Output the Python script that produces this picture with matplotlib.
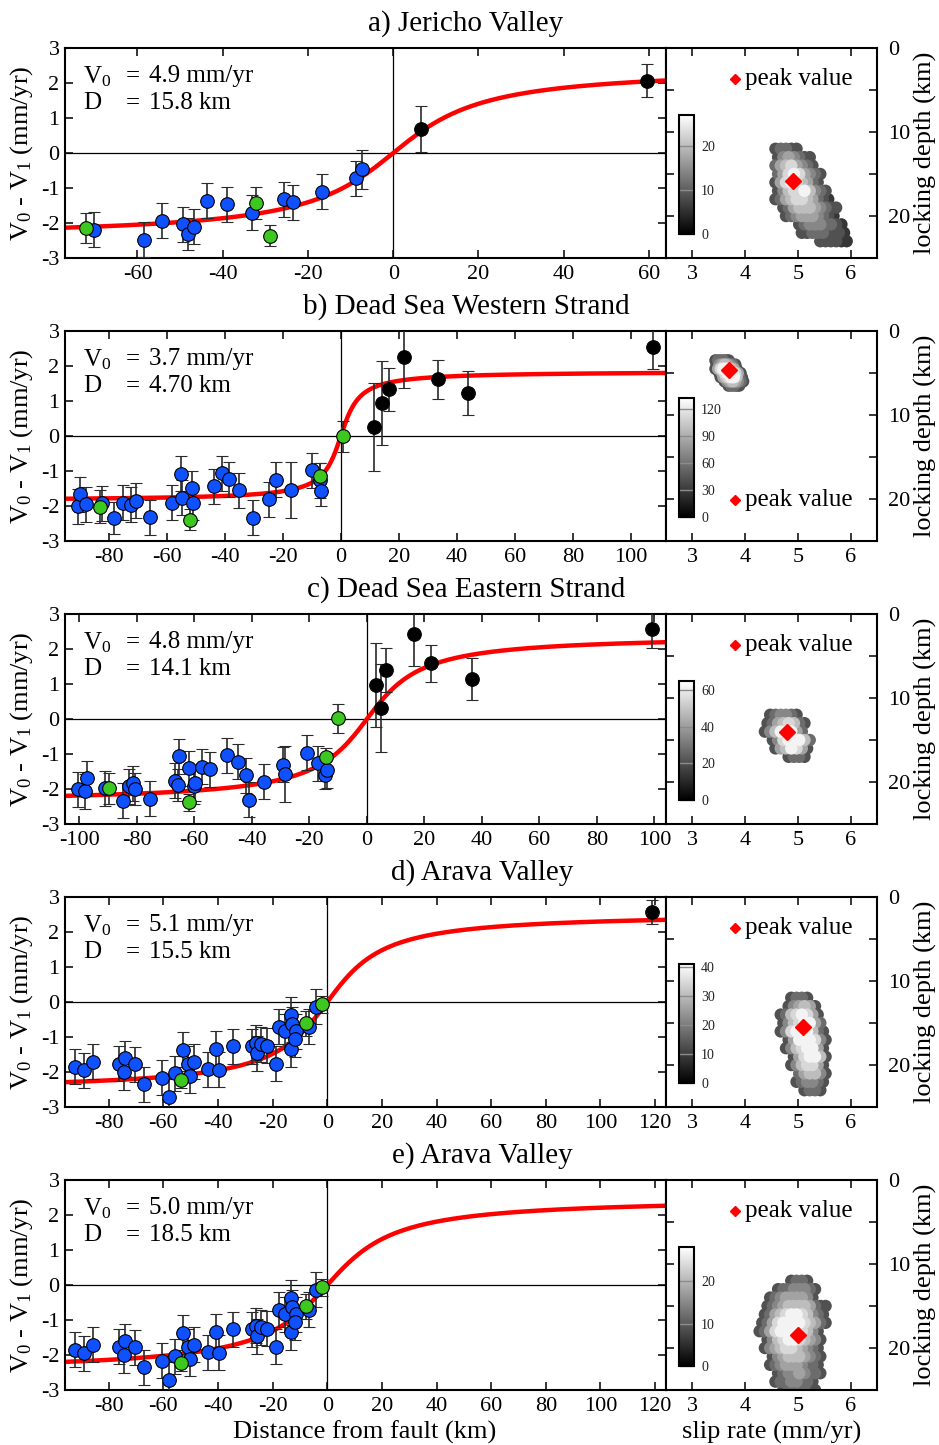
import numpy as np
import matplotlib
matplotlib.use("Agg")
import matplotlib.pyplot as plt
from matplotlib.ticker import MultipleLocator, FuncFormatter
from matplotlib.colors import Normalize

plt.rcParams['font.family'] = ['Liberation Serif', 'DejaVu Serif']
plt.rcParams['mathtext.fontset'] = 'custom'
plt.rcParams['mathtext.rm'] = 'Liberation Serif'
plt.rcParams['axes.unicode_minus'] = False

BLUE = '#0F50FF'
GREEN = '#3CC81E'

# ---- profile data: distance (km), V0-V1 (mm/yr), error, kind (b/g/k) ----
jer_x = [-72.0, -70.2, -58.5, -54.2, -49.2, -48.2, -46.8, -43.7, -39.0, -33.2,
         -32.2, -29.0, -25.7, -23.5, -16.7, -8.7, -7.3, 6.6, 59.6]
jer_y = [-2.15, -2.19, -2.48, -1.94, -2.04, -2.31, -2.11, -1.37, -1.47, -1.70,
         -1.43, -2.37, -1.32, -1.41, -1.10, -0.72, -0.47, 0.68, 2.06]
jer_e = [0.43, 0.50, 0.50, 0.50, 0.50, 0.45, 0.50, 0.50, 0.50, 0.50,
         0.45, 0.30, 0.50, 0.50, 0.50, 0.50, 0.57, 0.66, 0.47]
jer_k = "gbbbbbbbbbggbbbbbkk"

dsw_x = [-90.6, -89.7, -87.8, -83.0, -82.2, -78.2, -75.0, -72.1, -70.4, -65.6,
         -58.1, -54.9, -54.7, -52.1, -51.3, -51.0, -43.8, -40.9, -38.6, -35.2,
         -30.4, -24.9, -22.2, -17.2, -10.0, -7.3, -7.3, -6.8, 0.6, 11.5,
         14.2, 16.6, 21.8, 33.4, 43.8, 107.6]
dsw_y = [-2.00, -1.67, -1.95, -2.02, -1.92, -2.34, -1.90, -1.97, -1.85, -2.32,
         -1.90, -1.08, -1.77, -2.39, -1.49, -1.91, -1.43, -1.07, -1.24, -1.55,
         -2.34, -1.80, -1.25, -1.55, -0.98, -1.27, -1.13, -1.56, -0.01, 0.26,
         0.95, 1.33, 2.26, 1.62, 1.23, 2.54]
dsw_e = [0.50, 0.50, 0.50, 0.47, 0.50, 0.45, 0.50, 0.50, 0.50, 0.50,
         0.50, 0.50, 0.50, 0.30, 0.50, 0.50, 0.50, 0.50, 0.50, 0.50,
         0.50, 0.50, 0.50, 0.80, 0.50, 0.50, 0.35, 0.45, 0.44, 1.25,
         1.20, 0.62, 0.90, 0.55, 0.62, 0.62]
dsw_k = "bbbgbbbbbbbbbgbbbbbbbbbbbbgbgkkkkkkk"

dse_x = [-100.5, -98.1, -97.3, -91.2, -89.8, -84.8, -82.9, -81.5, -80.5, -75.5,
         -66.6, -65.7, -65.2, -62.0, -61.8, -60.3, -59.7, -57.4, -54.7, -48.7,
         -45.0, -42.2, -41.1, -35.9, -29.3, -28.4, -20.9, -17.0, -14.5, -13.9,
         -14.1, -10.2, 3.1, 4.9, 6.6, 16.5, 22.4, 36.5, 99.3]
dse_y = [-2.00, -2.06, -1.69, -1.98, -1.98, -2.34, -1.92, -1.84, -2.00, -2.28,
         -1.77, -1.88, -1.06, -1.40, -2.38, -1.92, -1.83, -1.37, -1.44, -1.04,
         -1.22, -1.60, -2.30, -1.79, -1.30, -1.57, -0.97, -1.26, -1.59, -1.47,
         -1.09, 0.02, 0.96, 0.32, 1.41, 2.44, 1.59, 1.14, 2.57]
dse_e = [0.50, 0.50, 0.50, 0.50, 0.45, 0.50, 0.50, 0.50, 0.45, 0.50,
         0.50, 0.45, 0.50, 0.50, 0.25, 0.50, 0.50, 0.50, 0.50, 0.50,
         0.50, 0.50, 0.50, 0.50, 0.50, 0.80, 0.50, 0.50, 0.40, 0.50,
         0.25, 0.42, 1.20, 1.25, 0.63, 0.93, 0.53, 0.60, 0.55]
dse_k = "bbbbgbbbbbbbbbgbbbbbbbbbbbbbbbggkkkkkkk"

arv_x = [-92.4, -89.0, -85.9, -76.1, -73.9, -74.4, -70.3, -67.0, -60.5, -58.0,
         -55.9, -53.5, -52.9, -51.0, -50.1, -48.8, -43.7, -40.9, -39.5, -34.5,
         -27.5, -26.2, -25.6, -24.1, -21.9, -18.8, -17.6, -15.5, -13.1, -12.9,
         -13.1, -11.3, -11.9, -6.7, -7.8, -4.3, -2.1, 119.0]
arv_y = [-1.85, -1.95, -1.70, -1.77, -1.60, -2.01, -1.78, -2.35, -2.16, -2.70,
         -2.03, -2.22, -1.36, -1.76, -2.10, -1.70, -1.92, -1.33, -1.93, -1.27,
         -1.26, -1.16, -1.46, -1.21, -1.25, -1.76, -0.71, -0.84, -0.37, -0.63,
         -1.35, -0.84, -1.07, -0.70, -0.61, -0.13, -0.07, 2.57]
arv_e = [0.50, 0.50, 0.50, 0.50, 0.50, 0.50, 0.50, 0.50, 0.50, 0.50,
         0.50, 0.25, 0.50, 0.50, 0.50, 0.50, 0.50, 0.50, 0.50, 0.50,
         0.50, 0.50, 0.50, 0.50, 0.50, 0.50, 0.50, 0.50, 0.50, 0.50,
         0.50, 0.50, 0.50, 0.50, 0.35, 0.50, 0.25, 0.35]
arv_k = "bbbbbbbbbbbgbbbbbbbbbbbbbbbbbbbbbbgbgk"

titles = ["a) Jericho Valley", "b) Dead Sea Western Strand",
          "c) Dead Sea Eastern Strand", "d) Arava Valley", "e) Arava Valley"]
slip_v0 = [4.9, 3.7, 4.8, 5.1, 5.0]
lock_d = [15.8, 4.7, 14.1, 15.5, 18.5]
d_text = ["15.8", "4.70", "14.1", "15.5", "18.5"]
x_limits = [(-77, 64), (-95, 112), (-105, 104), (-96, 124), (-96, 124)]

# ---- posterior clouds: grid of density levels (0 = no samples) ----
# (slip start, depth start, slip step, depth step)
jer_grid = (4.5, 12.0, 0.1, 1.0)
jer_cloud = ["0344330000000000",
             "0356543300000000",
             "0467865430000000",
             "0468986543000000",
             "0368987643000000",
             "0357889754300000",
             "0346788764320000",
             "0034677765433000",
             "0003456665432000",
             "0000034555443200",
             "0000003344433320",
             "0000000003333220"]
dsw_grid = (3.45, 3.5, 0.05, 0.5)
dsw_cloud = ["34443300000",
             "35676543000",
             "36899976300",
             "03689998630",
             "00367899743",
             "00035676543",
             "00000344330"]
dse_grid = (4.4, 12.0, 0.1, 1.0)
dse_cloud = ["034554300",
             "346787430",
             "357999640",
             "035899974",
             "003679863",
             "000034430"]
arv1_grid = (4.7, 12.0, 0.1, 1.0)
arv1_cloud = ["003443000",
              "035676300",
              "347898630",
              "357899640",
              "358999743",
              "036999853",
              "035789963",
              "003689973",
              "003578863",
              "000467753",
              "000345543",
              "000034430"]
arv2_grid = (4.3, 12.0, 0.1, 1.0)
arv2_cloud = ["0000003443000",
              "0003445554300",
              "0034566665300",
              "0345677776433",
              "0346789987543",
              "3468999987643",
              "3468999987530",
              "0357899876530",
              "0356788765430",
              "0035677765430",
              "0034566654430",
              "0003455654430",
              "0003445544300",
              "0000344443300"]
cb_max = [27, 132, 65, 41, 28]
cb_ticks = [[0, 10, 20], [0, 30, 60, 90, 120], [0, 20, 40, 60],
            [0, 10, 20, 30, 40], [0, 10, 20]]

profiles = [(jer_x, jer_y, jer_e, jer_k), (dsw_x, dsw_y, dsw_e, dsw_k),
            (dse_x, dse_y, dse_e, dse_k), (arv_x, arv_y, arv_e, arv_k),
            (arv_x[:-1], arv_y[:-1], arv_e[:-1], arv_k[:-1])]
clouds = [(jer_cloud, jer_grid), (dsw_cloud, dsw_grid), (dse_cloud, dse_grid),
          (arv1_cloud, arv1_grid), (arv2_cloud, arv2_grid)]

W, H = 939, 1445
fig = plt.figure(figsize=(W / 100, H / 100), dpi=100)

row_tops = [48, 331, 614, 897, 1180]
title_cx = [466, 466, 466, 482, 482]
row_h = 210


def style_axes(ax):
    for sp in ax.spines.values():
        sp.set_linewidth(1.5)
    ax.tick_params(which='both', direction='in', length=6, width=1.1,
                   top=True, right=True, labelsize=16, pad=5)


for i in range(5):
    top = row_tops[i]
    y0 = 1 - (top + row_h) / H
    h = row_h / H
    ax = fig.add_axes([65 / W, y0, (666 - 65) / W, h])
    ax2 = fig.add_axes([666 / W, y0, 211 / W, h])

    # ---- left: velocity profile ----
    x, y, e = [np.array(v) for v in profiles[i][:3]]
    k = np.array(list(profiles[i][3]))
    xl = x_limits[i]
    xm = np.linspace(xl[0], xl[1], 500)
    ax.plot(xm, slip_v0[i] / np.pi * np.arctan(xm / lock_d[i]), color='red',
            lw=3.2, zorder=2, solid_capstyle='butt')
    ax.axhline(0, color='k', lw=0.9, zorder=1)
    ax.axvline(0, color='k', lw=0.9, zorder=1)
    for kind, col in [('b', BLUE), ('g', GREEN), ('k', 'black')]:
        sel = k == kind
        if sel.any():
            ax.errorbar(x[sel], y[sel], yerr=e[sel], fmt='o', ms=9.8, mfc=col,
                        mec='black', mew=0.8, ecolor='#2a2a2a', elinewidth=1.2,
                        capsize=4.5, capthick=1.2, zorder=3)
    ax.set_xlim(xl)
    ax.set_ylim(-3, 3)
    ax.xaxis.set_major_locator(MultipleLocator(20))
    ax.yaxis.set_major_locator(MultipleLocator(1))
    style_axes(ax)
    ax.tick_params(axis='y', pad=4)
    for yy, lab, val in [(0.865, r"V$\mathregular{_0}$", "%.1f mm/yr" % slip_v0[i]),
                         (0.74, "D", "%s km" % d_text[i])]:
        ax.text(18 / 601, yy, lab, transform=ax.transAxes, fontsize=18,
                va='center', ha='left')
        ax.text(61 / 601, yy, "=", transform=ax.transAxes, fontsize=18,
                va='center', ha='left')
        ax.text(84 / 601, yy, val, transform=ax.transAxes, fontsize=18,
                va='center', ha='left')

    # ---- right: slip rate / locking depth posterior ----
    rows, (s0, d0, ds, dd) = clouds[i]
    cs, cd, cv = [], [], []
    for r, row in enumerate(rows):
        for j, ch in enumerate(row):
            lev = int(ch)
            if lev:
                cs.append(s0 + (j + 0.5 * (r % 2) - 0.25) * ds)
                cd.append(d0 + r * dd)
                cv.append(lev / 9 * cb_max[i] * 0.95)
    order = np.argsort(cv, kind='stable')
    cs, cd, cv = np.array(cs)[order], np.array(cd)[order], np.array(cv)[order]
    ax2.scatter(cs, cd, c=cv, cmap='gray', vmin=0, vmax=cb_max[i], s=80,
                linewidths=0, zorder=2)
    ax2.plot(slip_v0[i], lock_d[i], 'D', color='red', ms=8, mec='red', zorder=4)
    ax2.set_xlim(2.5, 6.5)
    ax2.set_ylim(25, 0)
    ax2.xaxis.set_major_locator(MultipleLocator(1))
    ax2.yaxis.set_major_locator(MultipleLocator(5))
    ax2.yaxis.set_major_formatter(FuncFormatter(
        lambda v, p: "%d" % v if abs(v % 10) < 1e-6 else ""))
    style_axes(ax2)
    ax2.tick_params(axis='y', labelleft=False, labelright=True, pad=8)

    ly = 0.852 if i != 1 else 0.195
    ax2.plot(0.327, ly, 'D', color='red', ms=5, transform=ax2.transAxes,
             clip_on=False, zorder=5)
    ax2.text(0.375, ly, "peak value", transform=ax2.transAxes, fontsize=18,
             va='center', ha='left')

    cax = ax2.inset_axes([0.062, 0.114, 0.071, 0.567])
    sm = plt.cm.ScalarMappable(norm=Normalize(0, cb_max[i]), cmap='gray')
    cb = fig.colorbar(sm, cax=cax, ticks=cb_ticks[i])
    cb.outline.set_linewidth(1.5)
    cax.tick_params(labelsize=10, direction='in', length=10.5, width=1,
                    color='0.55', pad=5, labelcolor='#222222')

    # titles and side labels
    fig.text(title_cx[i] / W, 1 - (top - 24) / H, titles[i], fontsize=21,
             ha='center', va='center')
    fig.text(22 / W, 1 - (top + 105) / H,
             r"V$\mathregular{_0}$ - V$\mathregular{_1}$ (mm/yr)",
             rotation=90, fontsize=19, ha='center', va='center')
    fig.text(925 / W, 1 - (top + 105) / H, "locking depth (km)",
             rotation=90, fontsize=19, ha='center', va='center')

fig.text(365 / W, 1 - 1432 / H, "Distance from fault (km)", fontsize=19,
         ha='center', va='center')
fig.text(772 / W, 1 - 1432 / H, "slip rate (mm/yr)", fontsize=19,
         ha='center', va='center')

fig.savefig("out.png", dpi=100)
